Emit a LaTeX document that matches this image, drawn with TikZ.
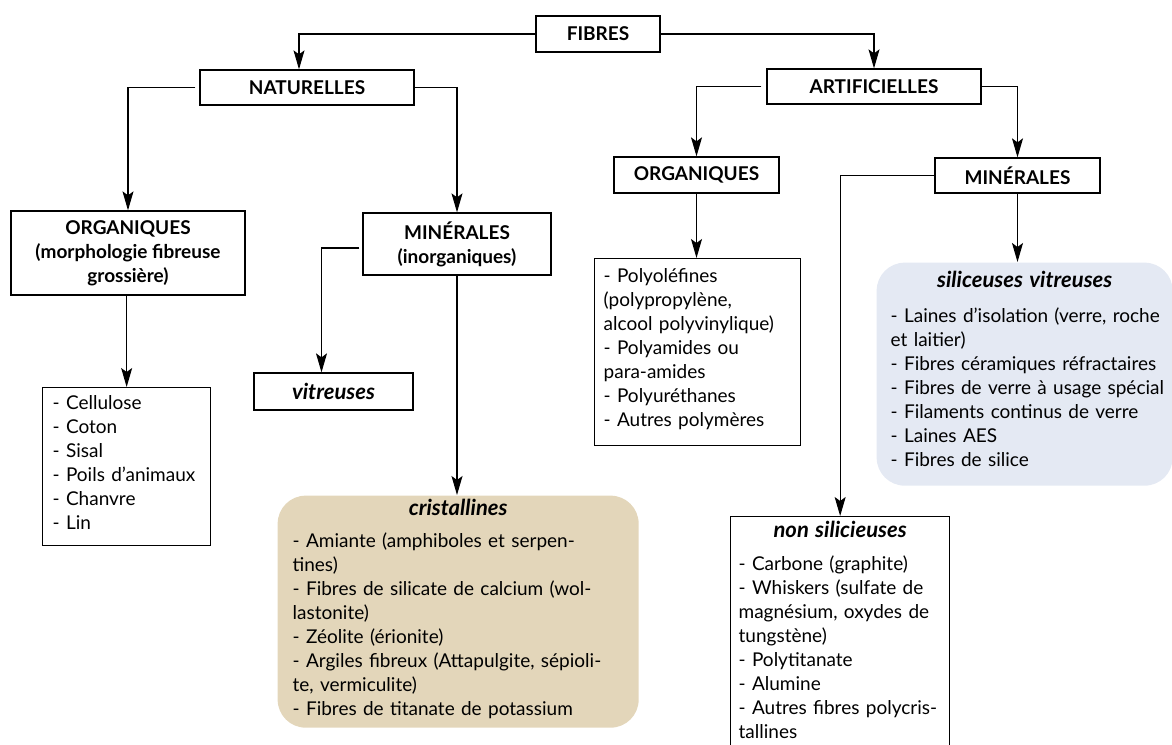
\documentclass[tikz,border=0pt]{standalone}
\usepackage{fontspec}
\setmainfont{Lato}
\usetikzlibrary{arrows.meta}
\definecolor{tanfill}{RGB}{227,214,186}
\definecolor{bluefill}{RGB}{228,233,243}
\newcommand{\sectitle}[1]{{\centering\fontsize{22}{24}\selectfont\bfseries\itshape #1\par}}

\begin{document}
\begin{tikzpicture}[x=1pt,y=-1pt,>={Stealth[length=19pt,width=11pt,inset=4pt]},line width=1.1pt,
  head/.style={draw,line width=1.3pt,inner sep=0pt,align=center,font=\fontsize{19}{24}\selectfont\bfseries},
  listbox/.style={draw,line width=1.3pt,anchor=north west,inner ysep=0pt,align=left,font=\fontsize{19}{24}\selectfont},
  roundbox/.style={listbox,draw=none,rounded corners=28pt}]

\useasboundingbox (0,0) rectangle (1172,744);

 \node (fibres) at (598,34) [head,minimum width=124pt,minimum height=36pt] {FIBRES};
 \node (naturelles) at (307,87.5) [head,minimum width=214pt,minimum height=35pt] {NATURELLES};
 \node (artificielles) at (874,86.5) [head,minimum width=214pt,minimum height=35pt] {ARTIFICIELLES};

 \node (org_nat) at (128,253) [head,minimum width=234pt,minimum height=84pt] {ORGANIQUES\\(morphologie fibreuse\\grossière)};
 \node (min_nat) at (457,244) [head,minimum width=188pt,minimum height=62pt] {MINÉRALES\\(inorganiques)};
 \node (org_art) at (696.5,175) [head,minimum width=165pt,minimum height=36pt] {ORGANIQUES};
 \node (min_art) at (1017.5,175.5) [head,minimum width=165pt,minimum height=35pt] {MINÉRALES};
 \node (vitreuses) at (333.5,391.5) [head,minimum width=159pt,minimum height=37pt,font=\fontsize{22}{24}\selectfont\bfseries\itshape] {vitreuses};

 \node (cellulose) at (42,387) [listbox,inner xsep=10pt,text width=148pt]
   {\rule{0pt}{22pt}- Cellulose\\- Coton\\- Sisal\\- Poils d’animaux\\- Chanvre\\- Lin\rule[-16pt]{0pt}{16pt}};
 \node (polymeres) at (594,258) [listbox,inner xsep=9pt,text width=188pt]
   {\rule{0pt}{23.5pt}- Polyoléfines\\(polypropylène,\\alcool polyvinylique)\\- Polyamides ou\\para-amides\\- Polyuréthanes\\- Autres polymères\rule[-19.5pt]{0pt}{19.5pt}};
 \node (cristallines) at (277,495) [roundbox,fill=tanfill,inner xsep=15pt,text width=331pt]
   {\sectitle{\rule{0pt}{20pt}cristallines}\vspace{8pt}%
    - Amiante (amphiboles et serpen-\\tines)\\- Fibres de silicate de calcium (wol-\\lastonite)\\- Zéolite (érionite)\\\mbox{- Argiles fibreux (Attapulgite, sépioli-}\\te, vermiculite)\\- Fibres de titanate de potassium\rule[-12pt]{0pt}{12pt}};
 \node (siliceuses) at (876,262) [roundbox,fill=bluefill,inner xsep=14pt,text width=268pt]
   {\sectitle{\rule{0pt}{25pt}siliceuses vitreuses}\vspace{11pt}%
    \mbox{- Laines d’isolation (verre, roche}\\et laitier)\\\mbox{- Fibres céramiques réfractaires}\\\mbox{- Fibres de verre à usage spécial}\\\mbox{- Filaments continus de verre}\\- Laines AES\\- Fibres de silice\rule[-19pt]{0pt}{19pt}};
 \node (non_silic) at (730,516) [listbox,inner xsep=8pt,text width=203pt]
   {\sectitle{\rule{0pt}{21pt}non silicieuses}\vspace{9pt}%
    - Carbone (graphite)\\- Whiskers (sulfate de\\magnésium, oxydes de\\tungstène)\\- Polytitanate\\- Alumine\\\mbox{- Autres fibres polycris-}\\tallines\rule[-14pt]{0pt}{14pt}};

  \draw [black,->] (fibres.west) -| ([xshift=-8pt]naturelles.north);
  \draw [black,->] (fibres.east) -| (artificielles.north);
  \draw [black,->,shorten <=4pt] (naturelles.west) -| (org_nat.north);
  \draw [black,->] (naturelles.east) -| (min_nat.north);
  \draw [black,->,shorten <=5pt] (artificielles.west) -| (org_art.north);
  \draw [black,->] (artificielles.east) -| (min_art.north);
  \draw [black,->,shorten <=3pt] ([yshift=-4pt]min_nat.west) -| ([xshift=-12pt]vitreuses.north);
  \draw [black,->] (min_nat.south) -- (min_nat.south |- cristallines.north);
  \draw [black,->] (cellulose.north |- org_nat.south) -- (cellulose.north);
  \draw [black,->] (org_art.south) -- (org_art.south |- polymeres.north);
  \draw [black,->] (min_art.south) -- (min_art.south |- siliceuses.north);
  \draw [black,->] (min_art.west) -| (non_silic.north);

\end{tikzpicture}
\end{document}
